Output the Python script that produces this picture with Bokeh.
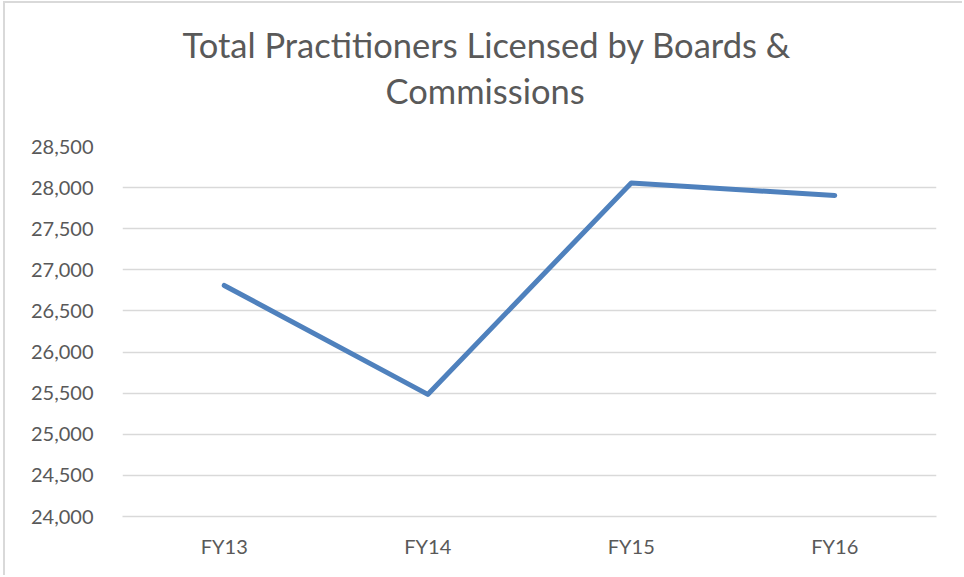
from bokeh.plotting import figure
from bokeh.models import FactorRange, Range1d, FixedTicker, NumeralTickFormatter, Title
from bokeh.embed import file_html
from bokeh.resources import INLINE

# Data
categories = ["FY13", "FY14", "FY15", "FY16"]
practitioners = [26810, 25485, 28055, 27905]
y_ticks = [24000, 24500, 25000, 25500, 26000, 26500, 27000, 27500, 28000, 28500]
title_lines = ["Total Practitioners Licensed by Boards &", "Commissions"]

FONT = "Lato"
TEXT_COLOR = "#595959"
GRID_COLOR = "#d9d9d9"
LINE_COLOR = "#4f81bd"

W, H = 959, 574
p = figure(
    x_range=FactorRange(*categories, range_padding=0),
    y_range=Range1d(y_ticks[0], y_ticks[-1]),
    width=W, height=H,
    output_backend="svg",
    toolbar_location=None,
    min_border_left=117, min_border_right=28,
    min_border_top=143, min_border_bottom=61,
    background_fill_color="white",
    border_fill_color="white",
)
p.outline_line_color = None
# thin chart-area border on the left and top only, like the original
p.styles = {
    "margin-left": "5px", "margin-top": "3px",
    "box-shadow": f"-2px -2px 0 0 {GRID_COLOR}",
}

p.line(x=categories, y=practitioners, line_color=LINE_COLOR, line_width=5,
       line_cap="round", line_join="round")

# Y axis
p.yaxis.ticker = FixedTicker(ticks=y_ticks)
p.yaxis.formatter = NumeralTickFormatter(format="0,0")
p.yaxis.axis_line_color = None
p.yaxis.major_tick_line_color = None
p.yaxis.minor_tick_line_color = None
p.yaxis.major_tick_out = 0
p.yaxis.major_label_standoff = 29
p.yaxis.major_label_text_font = FONT
p.yaxis.major_label_text_font_size = "20px"
p.yaxis.major_label_text_color = TEXT_COLOR

# X axis
p.xaxis.axis_line_color = GRID_COLOR
p.xaxis.axis_line_width = 1.5
p.xaxis.major_tick_line_color = None
p.xaxis.minor_tick_line_color = None
p.xaxis.major_tick_out = 0
p.xaxis.major_label_standoff = 17
p.xaxis.major_label_text_font = FONT
p.xaxis.major_label_text_font_size = "20px"
p.xaxis.major_label_text_color = TEXT_COLOR

# Grid
p.xgrid.grid_line_color = None
p.ygrid.grid_line_color = GRID_COLOR
p.ygrid.grid_line_width = 1.5

# Title: two centred lines (left-aligned titles shifted by an offset)
title_offsets = [60, 263]
bottom_spacer = Title(text=" ", text_font_size="1px", standoff=30)
t1 = Title(text=title_lines[0], align="left", offset=title_offsets[0],
           text_font=FONT, text_font_size="34.5px", text_font_style="normal",
           text_color=TEXT_COLOR, standoff=3, vertical_align="middle")
t2 = Title(text=title_lines[1], align="left", offset=title_offsets[1],
           text_font=FONT, text_font_size="34.5px", text_font_style="normal",
           text_color=TEXT_COLOR, standoff=3, vertical_align="middle")
p.add_layout(bottom_spacer, "above")
p.add_layout(t2, "above")
p.add_layout(t1, "above")

open("out.html", "w").write(file_html(p, INLINE))
